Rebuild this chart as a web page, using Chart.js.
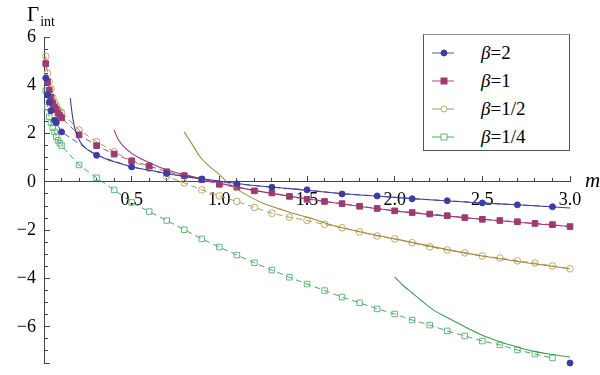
<!DOCTYPE html>
<html><head><meta charset="utf-8">
<script src="https://cdn.jsdelivr.net/npm/chart.js@4/dist/chart.umd.min.js"></script>
<style>
html,body{margin:0;padding:0;background:#fff;}
#wrap{position:relative;width:600px;height:375px;overflow:hidden;}
#c{position:absolute;left:0;top:0;}
.lbl{position:absolute;font-family:'Liberation Serif','DejaVu Serif',serif;color:#000;white-space:nowrap;line-height:1;}
#legend{position:absolute;left:423px;top:34px;width:147px;height:117px;border:1px solid #555;border-top-color:#999;background:#fff;box-sizing:border-box;}
.row{position:absolute;left:0;width:147px;height:26px;}
.row svg{position:absolute;left:0;top:0;}
.row span{position:absolute;left:57px;top:3px;font-family:'Liberation Serif',serif;font-size:19px;line-height:1;color:#000;}
</style></head>
<body>
<div id="wrap">
<canvas id="c" width="600" height="375"></canvas>
<div class="lbl" style="left:27px;top:4px;font-size:21px;">Γ<span style="font-size:14px;position:relative;top:5px;left:1px;">int</span></div>
<div class="lbl" style="left:585px;top:170px;font-size:21px;font-style:italic;">m</div>
<div id="legend"></div>
</div>
<script>
// ---- data ----
const seriesLabels = ['β=2', 'β=1', 'β=1/2', 'β=1/4'];

const b2X = [0.01,0.02,0.03,0.04,0.06,0.07,0.1,0.3,0.5,0.7,0.9,1.1,1.3,1.5,1.7,1.9,2.1,2.3,2.5,2.7,2.9];
const b2Y = [4.3,3.6,3.3,2.95,2.55,2.45,2.07,1.1,0.62,0.35,0.12,-0.08,-0.22,-0.33,-0.5,-0.58,-0.7,-0.78,-0.87,-0.95,-1.03];

const b1X = [0.01,0.02,0.03,0.04,0.05,0.06,0.07,0.08,0.09,0.1,0.2,0.3,0.4,0.5,0.6,0.7,0.8,0.9,1.0,1.1,1.2,1.3,1.4,1.5,1.6,1.7,1.8,1.9,2.0,2.1,2.2,2.3,2.4,2.5,2.6,2.7,2.8,2.9,3.0];
const b1Y = [4.9,4.15,3.8,3.5,3.25,3.1,3.0,2.85,2.75,2.65,1.95,1.5,1.15,0.87,0.66,0.42,0.26,0.09,-0.1,-0.22,-0.37,-0.46,-0.6,-0.72,-0.81,-0.9,-1.01,-1.1,-1.2,-1.27,-1.33,-1.4,-1.48,-1.55,-1.6,-1.65,-1.72,-1.77,-1.85];

const bHalfX = [0.01,0.02,0.03,0.04,0.05,0.06,0.07,0.08,0.09,0.1,0.2,0.3,0.4,0.5,0.6,0.7,0.8,0.9,1.0,1.1,1.2,1.3,1.4,1.5,1.6,1.7,1.8,1.9,2.0,2.1,2.2,2.3,2.4,2.5,2.6,2.7,2.8,2.9,3.0];
const bHalfY = [5.2,4.5,4.15,3.85,3.5,3.3,3.15,3.0,2.93,2.87,2.15,1.67,1.25,0.87,0.56,0.23,-0.04,-0.33,-0.58,-0.81,-1.06,-1.3,-1.46,-1.6,-1.76,-1.9,-2.07,-2.24,-2.36,-2.52,-2.69,-2.82,-2.94,-3.07,-3.15,-3.27,-3.36,-3.48,-3.6];

const bQuarterX = [0.01,0.02,0.03,0.04,0.05,0.06,0.07,0.08,0.09,0.1,0.2,0.3,0.4,0.5,0.6,0.7,0.8,0.9,1.0,1.1,1.2,1.3,1.4,1.5,1.6,1.7,1.8,1.9,2.0,2.1,2.2,2.3,2.4,2.5,2.6,2.7,2.8,2.9];
const bQuarterY = [3.77,3.1,2.7,2.45,2.25,2.07,1.87,1.72,1.6,1.5,0.7,0.17,-0.33,-0.85,-1.23,-1.6,-1.98,-2.36,-2.7,-3.03,-3.35,-3.65,-3.95,-4.23,-4.5,-4.77,-5.01,-5.26,-5.47,-5.72,-5.93,-6.17,-6.38,-6.59,-6.75,-6.96,-7.13,-7.29];

// large-m curves (solid)
const b2CurveX = [0.15,0.16,0.17,0.18,0.2,0.22,0.25,0.3,0.35,0.4,0.5,0.6,0.7,0.8,0.9,1.0,1.2,1.4,1.6,1.8,2.0,2.2,2.4,2.6,2.8,3.0];
const b2CurveY = [3.47,2.85,2.4,2.1,1.75,1.52,1.33,1.12,0.96,0.83,0.63,0.48,0.35,0.23,0.13,0.03,-0.15,-0.28,-0.42,-0.54,-0.64,-0.74,-0.83,-0.91,-0.99,-1.08];

const b1CurveX = [0.4,0.42,0.45,0.5,0.55,0.6,0.7,0.8,0.9,1.0,1.2,1.5,2.0,2.5,3.0];
const b1CurveY = [2.15,1.8,1.5,1.18,0.97,0.8,0.5,0.3,0.12,-0.05,-0.35,-0.7,-1.2,-1.55,-1.85];

const bHalfCurveX = [0.8,0.85,0.89,0.95,0.99,1.05,1.1,1.17,1.25,1.36,1.45,1.52,1.61,1.7,2.0,2.5,3.0];
const bHalfCurveY = [2.07,1.5,1.04,0.6,0.37,-0.04,-0.3,-0.6,-0.88,-1.16,-1.36,-1.5,-1.72,-1.9,-2.36,-3.07,-3.6];

const bQuarterCurveX = [2.0,2.05,2.1,2.15,2.22,2.3,2.4,2.5,2.6,2.7,2.8,2.9,3.0];
const bQuarterCurveY = [-3.93,-4.3,-4.6,-4.9,-5.3,-5.62,-6.0,-6.35,-6.62,-6.84,-7.03,-7.15,-7.25];

const cornerX = [3.0];
const cornerY = [-7.5];

const xMajorStep = 0.5, xMinorStep = 0.1, yMajorStep = 2, yMinorStep = 0.5;
const xMin = 0, xMax = 3, yMin = -7.5, yMax = 6;

// ---- styles ----
const cols = ['#3d3d9e', '#993d71', '#9c8c40', '#3d9956'];
const markCols = ['#3d3da4', '#9c3a72', '#bba96c', '#66b87b'];
const dashCols = ['#5555b0', '#a9507f', '#aa9a55', '#4aa563'];
const styles = ['circle', 'rect', 'circle', 'rect'];
const radii = [3.0, 4.0, 3.3, 3.9];
const filled = [true, true, false, false];

function pts(xs, ys) { return xs.map((x, i) => ({x: x, y: ys[i]})); }

const markerData = [[b2X,b2Y],[b1X,b1Y],[bHalfX,bHalfY],[bQuarterX,bQuarterY]];
const curveData = [[b2CurveX,b2CurveY],[b1CurveX,b1CurveY],[bHalfCurveX,bHalfCurveY],[bQuarterCurveX,bQuarterCurveY]];

const datasets = [];
curveData.forEach((d, i) => {
  datasets.push({
    label: 'curve' + i, data: pts(d[0], d[1]), showLine: true,
    borderColor: cols[i], borderWidth: 1.1, pointRadius: 0,
    cubicInterpolationMode: 'monotone', clip: false, order: 0
  });
});
markerData.forEach((d, i) => {
  datasets.push({
    label: seriesLabels[i], data: pts(d[0], d[1]), showLine: true,
    borderColor: dashCols[i], borderWidth: 1, borderDash: [6, 4],
    pointStyle: styles[i], pointRadius: radii[i], pointBorderWidth: 1,
    pointBackgroundColor: filled[i] ? markCols[i] : 'rgba(0,0,0,0)',
    pointBorderColor: markCols[i], clip: false, order: 1
  });
});
datasets.push({
  label: 'corner', data: pts(cornerX, cornerY), showLine: false,
  pointStyle: 'circle', pointRadius: 3.0, pointBackgroundColor: markCols[0],
  pointBorderColor: markCols[0], clip: false, order: 1
});

const serif = 'Liberation Serif';
const fmtY = v => (Math.abs(v % yMajorStep) < 1e-9) ? (v < 0 ? '\u2212' + Math.abs(v) : String(v)) : '';
const fmtX = v => (v === 0) ? '' : v.toFixed(1);
const noPad = s => { s.paddingTop = 0; s.paddingBottom = 0; s.paddingLeft = 0; s.paddingRight = 0; };

new Chart(document.getElementById('c'), {
  type: 'scatter',
  data: { datasets: datasets },
  options: {
    responsive: false, animation: false, events: [],
    layout: { padding: { top: 37, bottom: 12, left: 0, right: 30 } },
    plugins: { legend: { display: false }, tooltip: { enabled: false } },
    scales: {
      x: {
        type: 'linear', axis: 'x', min: xMin, max: xMax, position: { y: 0 },
        afterFit: s => { s.height = 0; noPad(s); },
        ticks: { stepSize: xMajorStep, padding: 14, autoSkip: false, maxRotation: 0,
                 font: { family: serif, size: 18 }, color: '#000', callback: fmtX },
        grid: { drawOnChartArea: false, tickLength: -6, color: '#444', lineWidth: 1 },
        border: { color: '#444', width: 1 }
      },
      x2: {
        type: 'linear', axis: 'x', min: xMin, max: xMax, position: { y: 0 },
        afterFit: s => { s.height = 0; noPad(s); },
        ticks: { stepSize: xMinorStep, display: false, autoSkip: false },
        grid: { drawOnChartArea: false, tickLength: -4, color: '#444', lineWidth: 1 },
        border: { display: false }
      },
      y: {
        type: 'linear', axis: 'y', min: yMin, max: yMax, position: 'left',
        afterFit: s => { s.width = 44; noPad(s); },
        ticks: { stepSize: yMajorStep, padding: 14, autoSkip: false,
                 font: { family: serif, size: 18 }, color: '#000', callback: fmtY },
        grid: { drawOnChartArea: false, tickLength: -6, color: '#444', lineWidth: 1 },
        border: { color: '#444', width: 1 }
      },
      y2: {
        type: 'linear', axis: 'y', min: yMin, max: yMax, position: { x: 0 },
        afterFit: s => { s.width = 0; noPad(s); },
        ticks: { stepSize: yMinorStep, display: false, autoSkip: false },
        grid: { drawOnChartArea: false, tickLength: -4, color: '#444', lineWidth: 1 },
        border: { display: false }
      }
    }
  }
});

// ---- HTML legend built from series labels & styles ----
const leg = document.getElementById('legend');
const rowTops = [5, 33, 61, 89];
seriesLabels.forEach((lab, i) => {
  const row = document.createElement('div');
  row.className = 'row';
  row.style.top = rowTops[i] + 'px';
  const cy = 13;
  let mk;
  if (styles[i] === 'circle') {
    mk = `<circle cx="20" cy="${cy}" r="3" fill="${filled[i] ? markCols[i] : '#fff'}" stroke="${markCols[i]}" stroke-width="1"/>`;
  } else {
    mk = `<rect x="17" y="${cy - 3}" width="6" height="6" fill="${filled[i] ? markCols[i] : '#fff'}" stroke="${markCols[i]}" stroke-width="1"/>`;
  }
  const parts = lab.split('β');
  row.innerHTML = `<svg width="40" height="26"><line x1="8" y1="${cy}" x2="30" y2="${cy}" stroke="${dashCols[i]}" stroke-width="1"/>${mk}</svg><span><i>β</i>${parts[1]}</span>`;
  leg.appendChild(row);
});
</script>
</body></html>
